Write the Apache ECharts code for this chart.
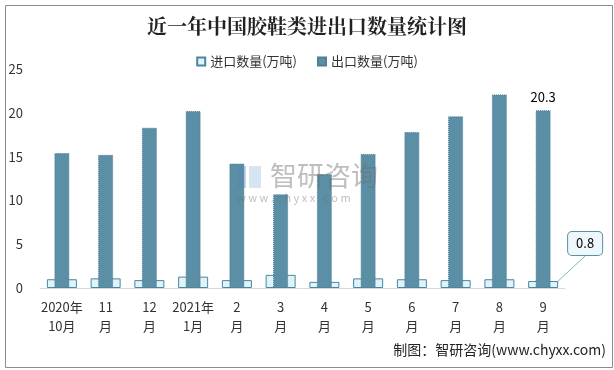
<!DOCTYPE html>
<html><head><meta charset="utf-8">
<script src="https://cdn.jsdelivr.net/npm/echarts@6/dist/echarts.min.js"></script>
<style>html,body{margin:0;padding:0;background:#fff}#c{width:614px;height:370px}</style>
</head><body><div id="c"></div>
<script>
var categories = ['2020年\n10月','11\n月','12\n月','2021年\n1月','2\n月','3\n月','4\n月','5\n月','6\n月','7\n月','8\n月','9\n月'];
var importValues = [1.0,1.1,0.9,1.3,0.9,1.5,0.7,1.1,1.0,0.9,1.0,0.8];
var exportValues = [15.4,15.2,18.3,20.2,14.2,10.7,13.0,15.3,17.8,19.6,22.1,20.3];
var yTicks = [0,5,10,15,20,25];

var font = '"Noto Sans CJK SC", "Microsoft YaHei", sans-serif';
var chart = echarts.init(document.getElementById('c'));
var last = importValues.length - 1;

var importData = importValues.map(function(v,i){
  if (i === last) {
    return {value:v, label:{show:true, position:'top', distance:4,
      formatter:'{c}', color:'#000', fontSize:13, fontFamily:font,
      backgroundColor:'#eef8fa', borderColor:'#5b8fa6', borderWidth:1, borderRadius:4,
      padding:[5,8,5,8]},
      labelLine:{show:true, lineStyle:{color:'#7fb0c4', width:1}}};
  }
  return v;
});
var exportData = exportValues.map(function(v,i){
  if (i === exportValues.length-1) {
    return {value:v, label:{show:true, position:'top', distance:7, color:'#000', fontSize:13, fontFamily:font}};
  }
  return v;
});

chart.setOption({
  animation:false,
  textStyle:{fontFamily:font},
  title:{text:'近一年中国胶鞋类进出口数量统计图', left:'center', top:11,
    textStyle:{fontSize:20, fontWeight:'bold', color:'#222', fontFamily:'"Noto Serif CJK SC","Noto Sans CJK SC",serif'}},
  legend:{top:50, left:'center', itemWidth:8, itemHeight:8, itemGap:20,
    textStyle:{fontSize:13, color:'#333', fontFamily:font},
    data:[{name:'进口数量(万吨)', icon:'rect'},{name:'出口数量(万吨)', icon:'rect'}]},
  grid:{left:40, right:49, top:69, bottom:82},
  xAxis:[{type:'category', data:categories, axisTick:{show:false},
      axisLine:{lineStyle:{color:'#d9d9d9', width:1}},
      axisLabel:{color:'#333', fontSize:13, lineHeight:19, margin:10, interval:0, fontFamily:font}},
    {type:'category', data:categories, show:false}],
  yAxis:{type:'value', min:yTicks[0], max:yTicks[yTicks.length-1], interval:5,
    splitLine:{show:false}, axisLine:{show:false}, axisTick:{show:false},
    axisLabel:{color:'#333', fontSize:13, margin:17, fontFamily:font}},
  series:[
    {name:'进口数量(万吨)', type:'bar', xAxisIndex:0, barWidth:30, data:importData, z:2,
      itemStyle:{color:'#dff3f9', borderColor:'#4a86a0', borderWidth:1},
      labelLayout:function(p){ if (p.dataIndex === last) { return {dx:42, dy:-22, moveOverlap:false}; } return {}; }},
    {name:'出口数量(万吨)', type:'bar', xAxisIndex:1, barWidth:15, data:exportData, z:3,
      itemStyle:{color:'#5b8fa6', borderColor:'#4f7f96', borderWidth:1, borderType:'dotted'}}
  ],
  graphic:[
    {type:'rect', left:3, top:3, shape:{width:607, height:362}, style:{fill:'none', stroke:'#8c8c8c', lineWidth:1}, z:-1},
    {type:'rect', left:238, top:166, shape:{width:8, height:22}, style:{fill:'rgba(90,130,180,0.35)'}, z:10},
    {type:'rect', left:249, top:166, shape:{width:12, height:22}, style:{fill:'rgba(140,180,220,0.35)'}, z:10},
    {type:'text', left:270, top:162, style:{text:'智研咨询', fontSize:27, fill:'rgba(110,110,110,0.45)', fontFamily:font}, z:10},
    {type:'text', left:237, top:192, style:{text:'w w w . c h y x x . c o m', fontSize:11, fill:'rgba(110,110,110,0.45)', fontFamily:font}, z:10},
    {type:'text', right:8, top:343, style:{text:'制图：智研咨询(www.chyxx.com)', fontSize:14, fill:'#222', fontFamily:font}, z:10}
  ]
});
</script></body></html>
